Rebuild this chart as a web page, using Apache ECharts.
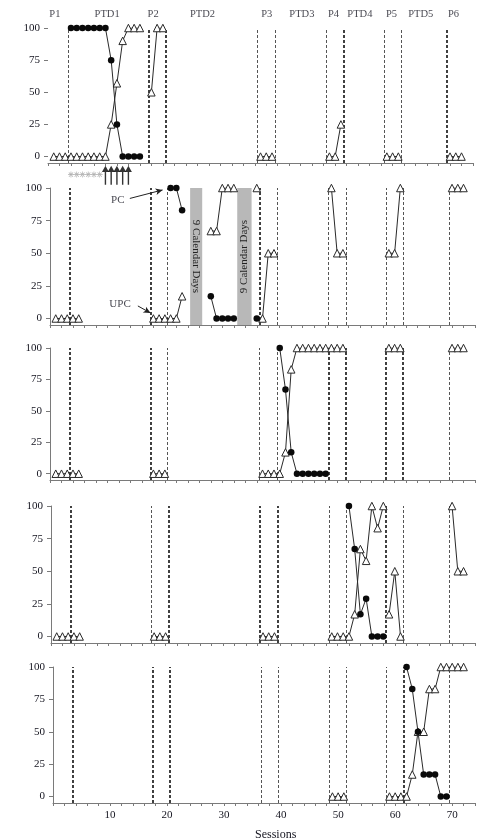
<!DOCTYPE html>
<html><head><meta charset="utf-8">
<script src="https://cdn.jsdelivr.net/npm/echarts@6/dist/echarts.min.js"></script>
<style>html,body{margin:0;padding:0;background:#fff}#c{width:485px;height:839px}</style>
</head><body><div id="c"></div>
<script>
// ---------- DATA ----------
const phaseLines = [3.5, 17.5, 20.5, 36.5, 39.5, 48.5, 51.5, 58.5, 61.5, 69.5];
const phaseNames = ['P1','PTD1','P2','PTD2','P3','PTD3','P4','PTD4','P5','PTD5','P6'];
const phaseNameSessions = [1.2, 10.3, 18.3, 26.9, 38.1, 44.2, 49.7, 54.3, 59.8, 64.9, 70.6];
const yTickValues = [0, 25, 50, 75, 100];
const xTickLabels = [10, 20, 30, 40, 50, 60, 70];

// Panel 1 (triangles = UPC, circles = PC); null = break in line
const p1TriSessions = [1,2,3,4,5,6,7,8,9,10,11,12,13,14,15,16,null,18,19,20,null,37,38,39,null,49,50,51,null,59,60,61,null,70,71,72];
const p1TriValues   = [0,0,0,0,0,0,0,0,0,0,25,57,90,100,100,100,null,50,100,100,null,0,0,0,null,0,0,25,null,0,0,0,null,0,0,0];
const p1CirSessions = [4,5,6,7,8,9,10,11,12,13,14,15,16];
const p1CirValues   = [100,100,100,100,100,100,100,75,25,0,0,0,0];
const p1PromptStarSessions = [4,5,6,7,8,9];
const p1ArrowSessions = [10,11,12,13,14];

// Panel 2
const p2TriSessions = [1,2,3,4,5,null,18,19,20,21,22,23,null,28,29,30,31,32,null,36,null,37,38,39,null,49,50,51,null,59,60,61,null,70,71,72];
const p2TriValues   = [0,0,0,0,0,null,0,0,0,0,0,17,null,67,67,100,100,100,null,100,null,0,50,50,null,100,50,50,null,50,50,100,null,100,100,100];
const p2CirSessions = [21,22,23,null,28,29,30,31,32,null,36];
const p2CirValues   = [100,100,83,null,17,0,0,0,0,null,0];
const p2Breaks = [[24.4, 26.5], [32.6, 35.1]];
const p2BreakText = '9 Calendar Days';

// Panel 3
const p3TriSessions = [1,2,3,4,5,null,18,19,20,null,37,38,39,40,41,42,43,44,45,46,47,48,49,50,51,null,59,60,61,null,70,71,72];
const p3TriValues   = [0,0,0,0,0,null,0,0,0,null,0,0,0,0,17,83,100,100,100,100,100,100,100,100,100,null,100,100,100,null,100,100,100];
const p3CirSessions = [40,41,42,43,44,45,46,47,48];
const p3CirValues   = [100,67,17,0,0,0,0,0,0];

// Panel 4
const p4TriSessions = [1,2,3,4,5,null,18,19,20,null,37,38,39,null,49,50,51,52,53,54,55,56,57,58,null,59,60,61,null,70,71,72];
const p4TriValues   = [0,0,0,0,0,null,0,0,0,null,0,0,0,null,0,0,0,0,17,67,58,100,83,100,null,17,50,0,null,100,50,50];
const p4CirSessions = [52,53,54,55,56,57,58];
const p4CirValues   = [100,67,17,29,0,0,0];

// Panel 5
const p5TriSessions = [49,50,51,null,59,60,61,62,63,64,65,66,67,68,69,70,71,72];
const p5TriValues   = [0,0,0,null,0,0,0,0,17,50,50,83,83,100,100,100,100,100];
const p5CirSessions = [62,63,64,65,66,67,68,69];
const p5CirValues   = [100,83,50,17,17,17,0,0];

// annotation: [text, textSession, textValue, arrowFromS, arrowFromV, arrowToS, arrowToV]
const annotations = [
  ['PC', 11.8, 91, 13.9, 92, 19.6, 98.5],
  ['UPC', 12.2, 11, 15.3, 9.6, 17.5, 4.2]
];

// ---------- STYLE / LAYOUT ----------
const SERIF = '"Liberation Serif", "Times New Roman", serif';
const TXT = '#14141f';
const grids = [
  {left: 48, right: 12, top: 28, height: 135},
  {left: 50, right: 10, top: 188, height: 137},
  {left: 50, right: 10, top: 348, height: 132},
  {left: 51, right: 10, top: 506, height: 137},
  {left: 53, right: 10, top: 667, height: 136}
];
const lineWidths = [
  [1, 1.6, 1.6, 1, 1, 1, 1.6, 1, 1, 1.6],
  [1.6, 1.6, 1, 1.6, 1, 1, 1, 1, 1, 1],
  [1.6, 1.6, 1, 1, 1, 1.6, 1.6, 1.6, 1.6, 1],
  [1.6, 1, 1.6, 1.6, 1.6, 1, 1, 1.6, 1, 1],
  [1.6, 1.6, 1.6, 1, 1, 1, 1, 1, 1.6, 1]
];
const panels = [
  {tri: [p1TriSessions, p1TriValues], cir: [p1CirSessions, p1CirValues]},
  {tri: [p2TriSessions, p2TriValues], cir: [p2CirSessions, p2CirValues]},
  {tri: [p3TriSessions, p3TriValues], cir: [p3CirSessions, p3CirValues]},
  {tri: [p4TriSessions, p4TriValues], cir: [p4CirSessions, p4CirValues]},
  {tri: [p5TriSessions, p5TriValues], cir: [p5CirSessions, p5CirValues]}
];

function toData(ss, vs) {
  const d = [];
  for (let i = 0; i < ss.length; i++) {
    if (ss[i] === null) d.push([ss[i - 1] + 0.5, '-']);
    else d.push([ss[i], vs[i]]);
  }
  return d;
}

const xAxes = [], yAxes = [], series = [];
grids.forEach((g, i) => {
  const last = i === grids.length - 1;
  xAxes.push({
    gridIndex: i, type: 'value', min: 0, max: 74, interval: 2,
    axisLine: {show: true, onZero: false, lineStyle: {color: '#7a7a7a', width: 1}},
    axisTick: {show: true, length: 3, lineStyle: {color: '#7a7a7a'}},
    splitLine: {show: false},
    axisLabel: {
      show: last, margin: 7, color: TXT, fontFamily: SERIF, fontSize: 11,
      formatter: v => (xTickLabels.indexOf(v) >= 0 ? String(v) : '')
    }
  });
  yAxes.push({
    gridIndex: i, type: 'value', min: -5, max: 100,
    axisLine: {show: i !== 0, lineStyle: {color: '#7a7a7a', width: 1}},
    axisTick: {show: true, length: 4, customValues: yTickValues, lineStyle: {color: '#7a7a7a'}},
    splitLine: {show: false},
    axisLabel: {show: true, customValues: yTickValues, margin: 8, color: TXT, fontFamily: SERIF, fontSize: 11}
  });
  const p = panels[i];
  const triSeries = {
    type: 'line', xAxisIndex: i, yAxisIndex: i, z: 3,
    data: toData(p.tri[0], p.tri[1]),
    symbol: 'triangle', symbolSize: 7.5, connectNulls: false,
    lineStyle: {color: '#2a2a2a', width: 1},
    itemStyle: {color: '#fff', borderColor: '#2a2a2a', borderWidth: 1},
    markLine: {
      silent: true, symbol: ['none', 'none'], label: {show: false}, z: 2,
      data: phaseLines.map((x, j) => ({
        xAxis: x,
        lineStyle: {type: [3, 2], color: lineWidths[i][j] > 1 ? '#111' : '#555', width: lineWidths[i][j]}
      }))
    }
  };
  const cirSeries = {
    type: 'line', xAxisIndex: i, yAxisIndex: i, z: 4,
    data: toData(p.cir[0], p.cir[1]),
    symbol: 'circle', symbolSize: 6.5, connectNulls: false,
    lineStyle: {color: '#2a2a2a', width: 1},
    itemStyle: {color: '#0a0a0a', borderColor: '#0a0a0a', borderWidth: 0}
  };
  if (i === 1) {
    triSeries.markArea = {
      silent: true,
      itemStyle: {color: '#b8b8b8'},
      label: {show: true, position: 'inside', color: '#222', fontFamily: SERIF, fontSize: 11},
      data: p2Breaks.map((b, k) => [
        {xAxis: b[0], yAxis: 100, label: {rotate: k === 0 ? -90 : 90, formatter: p2BreakText}},
        {xAxis: b[1], yAxis: -5}
      ])
    };
    cirSeries.markLine = {
      silent: true, symbol: ['none', 'arrow'], symbolSize: [5, 7], label: {show: false},
      lineStyle: {type: 'solid', color: '#222', width: 1},
      data: annotations.map(a => [{coord: [a[3], a[4]]}, {coord: [a[5], a[6]]}])
    };
  }
  series.push(triSeries, cirSeries);
});

// phase names above panel 1
series.push({
  type: 'scatter', xAxisIndex: 0, yAxisIndex: 0, clip: false, silent: true,
  symbolSize: 1, itemStyle: {color: 'rgba(0,0,0,0)'},
  label: {show: true, position: 'inside', formatter: p => p.name, color: TXT, fontFamily: SERIF, fontSize: 10.5},
  data: phaseNames.map((n, k) => ({name: n, value: [phaseNameSessions[k], 111]}))
});
// prompt stars and arrows under panel 1
series.push({
  type: 'scatter', xAxisIndex: 0, yAxisIndex: 0, clip: false, silent: true,
  symbol: 'path://M4,0h1v9h-1z M0,4h9v1h-9z M1,1.7l0.7,-0.7l6.3,6.3l-0.7,0.7z M8,1.7l-0.7,-0.7l-6.3,6.3l0.7,0.7z',
  symbolSize: 6, itemStyle: {color: '#9a9a9a'},
  data: p1PromptStarSessions.map(s => [s, -14])
});
series.push({
  type: 'scatter', xAxisIndex: 0, yAxisIndex: 0, clip: false, silent: true,
  symbol: 'path://M5,0 L10,8 L6,8 L6,24 L4,24 L4,8 L0,8 Z',
  symbolSize: [7, 19], itemStyle: {color: '#000'},
  data: p1ArrowSessions.map(s => [s, -14.5])
});
// PC / UPC labels
series.push({
  type: 'scatter', xAxisIndex: 1, yAxisIndex: 1, clip: false, silent: true,
  symbolSize: 1, itemStyle: {color: 'rgba(0,0,0,0)'},
  label: {show: true, position: 'inside', formatter: p => p.name, color: TXT, fontFamily: SERIF, fontSize: 11},
  data: annotations.map(a => ({name: a[0], value: [a[1], a[2]]}))
});

const chart = echarts.init(document.getElementById('c'), null, {renderer: 'canvas'});
chart.setOption({
  animation: false,
  backgroundColor: '#fff',
  grid: grids,
  xAxis: xAxes,
  yAxis: yAxes,
  series: series,
  graphic: [{
    type: 'text', left: 255, top: 829,
    style: {text: 'Sessions', font: '12px ' + SERIF, fill: TXT}
  }]
});
</script></body></html>
